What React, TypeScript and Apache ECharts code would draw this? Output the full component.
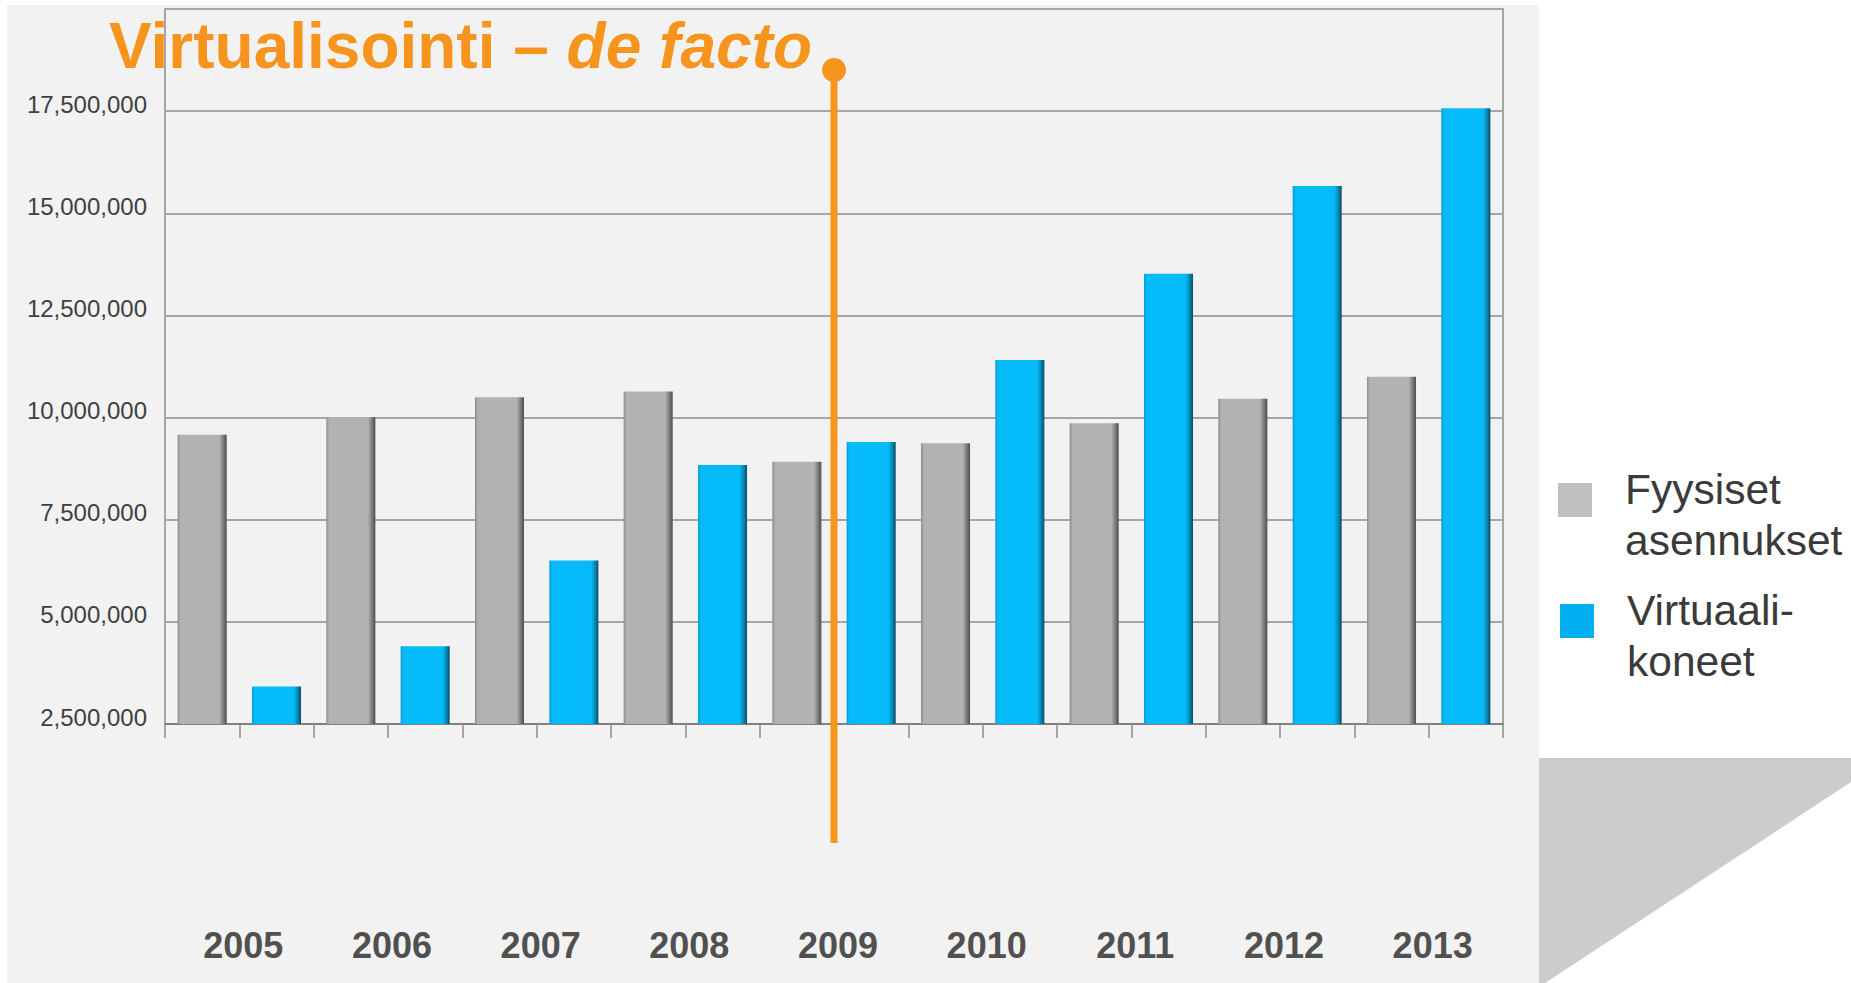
import React, { useEffect, useRef } from 'react';
import * as echarts from 'echarts';

const years = ['2005', '2006', '2007', '2008', '2009', '2010', '2011', '2012', '2013'];
const physicalInstalls = [9580000, 10010000, 10500000, 10640000, 8920000, 9370000, 9860000, 10460000, 11000000];
const virtualMachines = [3420000, 4400000, 6500000, 8840000, 9400000, 11410000, 13520000, 15670000, 17570000];
const seriesNames = ['Fyysiset asennukset', 'Virtuaalikoneet'];
const legendLabels = ['Fyysiset\nasennukset', 'Virtuaali-\nkoneet'];
const yMin = 2500000;
const yMax = 20000000;
const yStep = 2500000;
const markerYear = '2009';
const titleMain = 'Virtualisointi – ';
const titleItalic = 'de facto';

const FONT = "'Liberation Sans', Arial, sans-serif";
const ORANGE = '#F7941D';

const fmt = (v: number) => String(Math.round(v)).replace(/\B(?=(\d{3})+(?!\d))/g, ',');

// square in the upper-left part of a larger icon box, so that the text block sits lower and further right
const LEGEND_ICON = 'path://M0,0h34v34h-34z M61.99,63.99h0.01v0.01h-0.01z';

const grayFill = new echarts.graphic.LinearGradient(0, 0, 1, 0, [
  { offset: 0, color: '#8c8c8c' },
  { offset: 0.06, color: '#b2b2b2' },
  { offset: 0.85, color: '#b2b2b2' },
  { offset: 0.93, color: '#7c7c7c' },
  { offset: 1, color: '#4e4e4e' },
]);
const blueFill = new echarts.graphic.LinearGradient(0, 0, 1, 0, [
  { offset: 0, color: '#0a9ed4' },
  { offset: 0.06, color: '#05bbf9' },
  { offset: 0.85, color: '#05bbf9' },
  { offset: 0.93, color: '#0788b6' },
  { offset: 1, color: '#0b4c66' },
]);

export default function App() {
  const ref = useRef<HTMLDivElement>(null);

  useEffect(() => {
    if (!ref.current) return;
    const chart = echarts.init(ref.current, undefined, { renderer: 'svg' });

    const slots = years.flatMap((y) => [`${y} F`, `${y} V`]);
    const physData = years.flatMap((_, i) => [physicalInstalls[i], '-']);
    const virtData = years.flatMap((_, i) => ['-', virtualMachines[i]]);

    const legendCommon = {
      orient: 'vertical',
      padding: 0,
      itemWidth: 62,
      itemHeight: 64,
      icon: LEGEND_ICON,
      selectedMode: false,
      formatter: (name: string) => legendLabels[seriesNames.indexOf(name)],
      textStyle: {
        fontSize: 42.5,
        lineHeight: 51,
        color: '#3a3a3a',
        fontFamily: FONT,
      },
    };

    const option: any = {
      animation: false,
      backgroundColor: '#ffffff',
      title: {
        text: `{a|${titleMain}}{b|${titleItalic}}`,
        left: 109,
        top: 14,
        padding: 0,
        textStyle: {
          rich: {
            a: { fontSize: 64, fontWeight: 'bold', color: ORANGE, fontFamily: FONT },
            b: { fontSize: 64, fontWeight: 'bold', fontStyle: 'italic', color: ORANGE, fontFamily: FONT },
          },
        },
      },
      legend: [
        {
          ...legendCommon,
          data: [seriesNames[0]],
          left: 1558,
          top: 464,
          itemStyle: { color: '#bfbfbf', borderWidth: 0 },
        },
        {
          ...legendCommon,
          data: [seriesNames[1]],
          left: 1560,
          top: 585,
          itemStyle: { color: '#00b0f0', borderWidth: 0 },
        },
      ],
      grid: {
        left: 165,
        top: 9,
        width: 1338,
        height: 715,
        show: true,
        backgroundColor: 'transparent',
        borderColor: '#a6a6a6',
        borderWidth: 2,
        containLabel: false,
      },
      xAxis: [
        {
          type: 'category',
          data: slots,
          axisLine: { show: true, lineStyle: { color: '#808080', width: 2 } },
          axisTick: { show: true, length: 14, lineStyle: { color: '#8c8c8c', width: 1.5 } },
          axisLabel: { show: false },
          splitLine: { show: false },
        },
        {
          type: 'category',
          data: years,
          position: 'bottom',
          axisLine: { show: false },
          axisTick: { show: false },
          splitLine: { show: false },
          axisLabel: {
            margin: 203,
            fontSize: 36,
            fontWeight: 'bold',
            color: '#505050',
            fontFamily: FONT,
            padding: [0, 0, 0, 8],
          },
        },
      ],
      yAxis: {
        type: 'value',
        min: yMin,
        max: yMax,
        interval: yStep,
        axisLine: { show: true, lineStyle: { color: '#a6a6a6', width: 2 } },
        axisTick: { show: false },
        splitLine: { show: true, lineStyle: { color: '#a6a6a6', width: 2 } },
        axisLabel: {
          showMaxLabel: false,
          formatter: (v: number) => fmt(v),
          fontSize: 24,
          color: '#404040',
          fontFamily: FONT,
          margin: 18,
          verticalAlign: 'bottom',
          lineHeight: 14,
        },
      },
      series: [
        {
          name: seriesNames[0],
          type: 'bar',
          xAxisIndex: 0,
          barWidth: '66%',
          barGap: '-100%',
          data: physData,
          itemStyle: { color: grayFill },
        },
        {
          name: seriesNames[1],
          type: 'bar',
          xAxisIndex: 0,
          barWidth: '66%',
          barGap: '-100%',
          data: virtData,
          itemStyle: { color: blueFill },
        },
      ],
    };

    chart.setOption(option);

    const mx = chart.convertToPixel({ xAxisIndex: 1 }, markerYear) as number;

    chart.setOption({
      graphic: {
        elements: [
          {
            type: 'rect',
            z: -10,
            silent: true,
            shape: { x: 7, y: 5, width: 1532, height: 978 },
            style: { fill: '#f2f2f2' },
          },
          {
            type: 'polygon',
            z: -10,
            silent: true,
            shape: { points: [[1539, 758], [1851, 758], [1851, 782], [1545, 983], [1539, 983]] },
            style: { fill: '#cccccc' },
          },
          {
            type: 'line',
            z: 50,
            silent: true,
            shape: { x1: mx, y1: 70, x2: mx, y2: 843 },
            style: { stroke: ORANGE, lineWidth: 7 },
          },
          {
            type: 'circle',
            z: 50,
            silent: true,
            shape: { cx: mx, cy: 70, r: 12 },
            style: { fill: ORANGE },
          },
        ],
      },
    });

    return () => chart.dispose();
  }, []);

  return (
    <div
      ref={ref}
      style={{ position: 'fixed', left: 0, top: 0, width: 1851, height: 983, background: '#ffffff' }}
    />
  );
}
